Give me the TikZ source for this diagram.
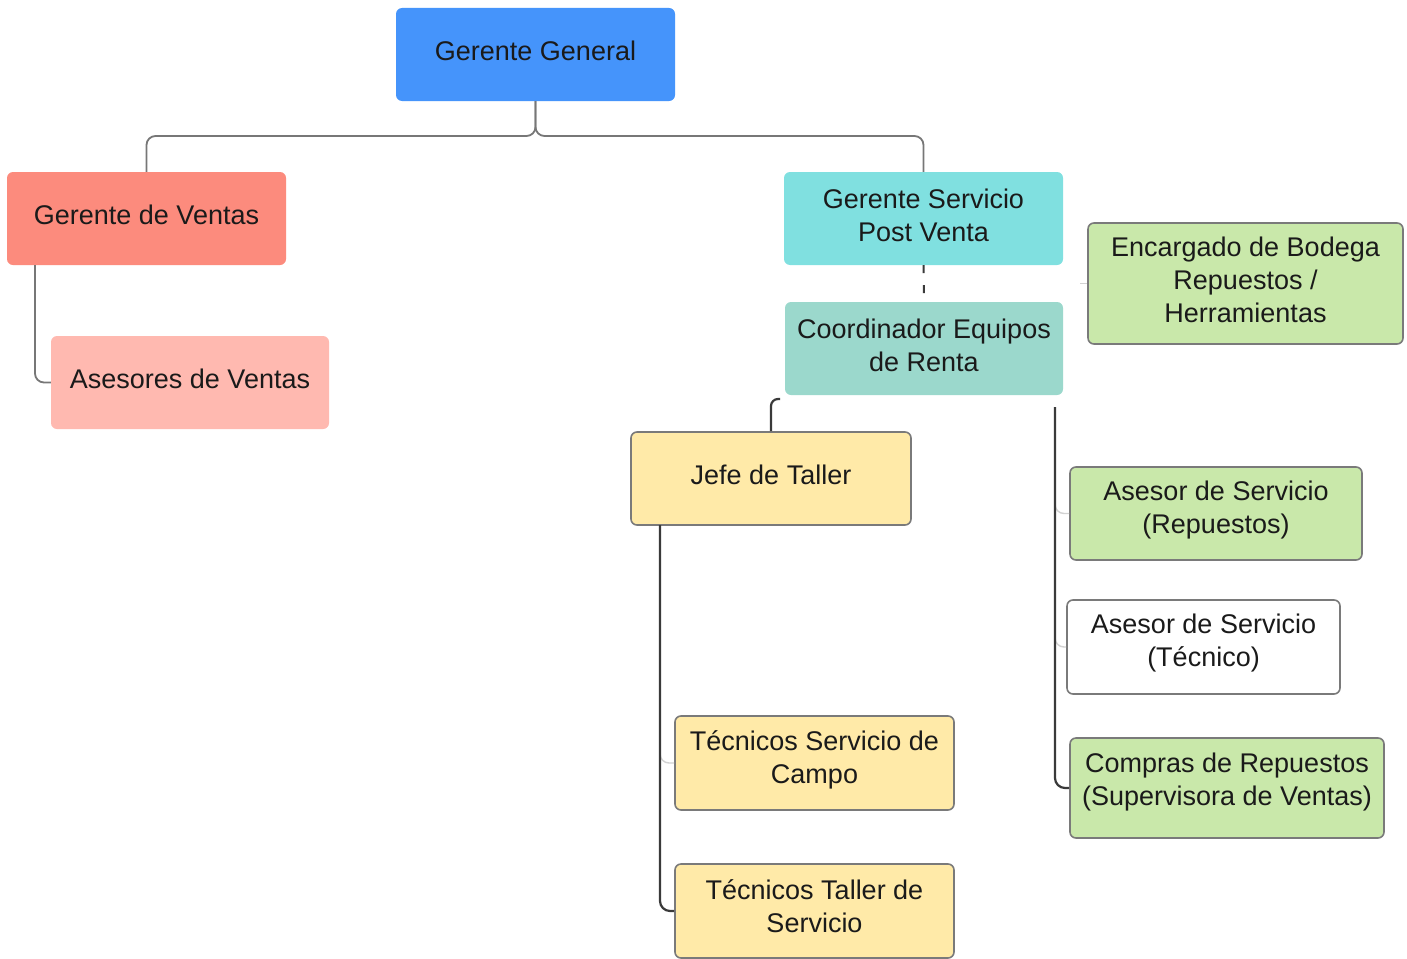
\documentclass[tikz,border=0pt]{standalone}
\usepackage{fontspec}
\setmainfont{Liberation Sans}
\begin{document}
\begin{tikzpicture}[x=1pt,y=-1pt,
  box/.style={rectangle, rounded corners=6pt, inner sep=0pt},
  bbox/.style={box, draw=bord, line width=1.6pt},
  lbl/.style={align=center, text=txt, inner sep=0pt, yshift=3.5pt,
    font=\fontsize{27}{33}\selectfont},
  conn/.style={draw=lgray, line width=1.8pt, rounded corners=9pt},
  dconn/.style={draw=dgray, line width=2.2pt, rounded corners=10pt},
  faint/.style={draw=fgray, line width=1.4pt, rounded corners=9pt}]
\definecolor{txt}{HTML}{1A1A1A}
\definecolor{bord}{HTML}{7A7A7A}
\definecolor{lgray}{HTML}{777777}
\definecolor{dgray}{HTML}{3A3A3A}
\definecolor{fgray}{HTML}{D2D2D2}
\definecolor{cblue}{HTML}{4594FB}
\definecolor{cred}{HTML}{FC8B7D}
\definecolor{cpink}{HTML}{FFB9B0}
\definecolor{ccyan}{HTML}{80E0E0}
\definecolor{cteal}{HTML}{9BD8CC}
\definecolor{cgreen}{HTML}{C9E8AA}
\definecolor{cyellow}{HTML}{FFEAA8}
\clip (0,0) rectangle (1407,958);
\fill[white] (0,0) rectangle (1407,958);

\node[box, fill=cblue, minimum width=279pt, minimum height=93pt,
  label={[lbl]center:{Gerente General}}] (gg) at (535.5,54.5) {};
\node[box, fill=cred, minimum width=279pt, minimum height=93pt,
  label={[lbl]center:{Gerente de Ventas}}] (gv) at (146.5,218.5) {};
\node[box, fill=cpink, minimum width=278pt, minimum height=93pt,
  label={[lbl]center:{Asesores de Ventas}}] (av) at (190,382.5) {};
\node[box, fill=ccyan, minimum width=279pt, minimum height=93pt,
  label={[lbl]center:{Gerente Servicio\\Post Venta}}] (gs) at (923.5,218.5) {};
\node[box, fill=cteal, minimum width=278pt, minimum height=93pt,
  label={[lbl]center:{Coordinador Equipos\\de Renta}}] (ce) at (924,348.5) {};
\node[bbox, fill=cgreen, minimum width=315pt, minimum height=121pt,
  label={[lbl]center:{Encargado de Bodega\\Repuestos /\\Herramientas}}] (eb) at (1245.5,283.5) {};
\node[bbox, fill=cyellow, minimum width=280pt, minimum height=93pt,
  label={[lbl]center:{Jefe de Taller}}] (jt) at (771,478.5) {};
\node[bbox, fill=cgreen, minimum width=292pt, minimum height=93pt,
  label={[lbl]center:{Asesor de Servicio\\(Repuestos)}}] (ar) at (1216,513.5) {};
\node[bbox, fill=white, minimum width=273pt, minimum height=94pt,
  label={[lbl]center:{Asesor de Servicio\\(Técnico)}}] (at) at (1203.5,647) {};
\node[bbox, fill=cgreen, minimum width=314pt, minimum height=100pt,
  label={[lbl, yshift=2.5pt]center:{Compras de Repuestos\\(Supervisora de Ventas)}}] (cr) at (1227,788) {};
\node[bbox, fill=cyellow, minimum width=279pt, minimum height=94pt,
  label={[lbl]center:{Técnicos Servicio de\\Campo}}] (tc) at (814.5,763) {};
\node[bbox, fill=cyellow, minimum width=279pt, minimum height=94pt,
  label={[lbl, yshift=1pt]center:{Técnicos Taller de\\Servicio}}] (tt) at (814.5,911) {};

% coordinates for connector ends
\coordinate (split) at (535.5,136);
\coordinate (gvleg) at (35,265);
\coordinate (jtop) at (780,399);
\coordinate (rtop) at (1055,407);
\coordinate (jleg) at (660,525);
\coordinate (ebstub) at (1080,283.5);

% Gerente General to managers
\draw[conn] (gg.south) -- (split) -| (gv.north);
\draw[conn] (gg.south) -- (split) -| (gs.north);
% Gerente de Ventas to Asesores
\draw[conn] (gvleg) |- (av.west);
% Gerente Servicio to Coordinador (dashed)
\draw[draw=dgray, line width=2pt, dash pattern=on 8pt off 12pt] (gs.south) -- (ce.north);
% Encargado stub
\draw[faint] (ebstub) -- (eb.west);
% Jefe de Taller top fragment
\draw[dconn, rounded corners=7pt] (jt.north) |- (jtop);
% right group
\draw[faint] (rtop) |- (ar.west);
\draw[faint] (rtop) |- (at.west);
\draw[dconn] (rtop) |- (cr.west);
% left group
\draw[faint] (jleg) |- (tc.west);
\draw[dconn] (jleg) |- (tt.west);
\end{tikzpicture}
\end{document}
